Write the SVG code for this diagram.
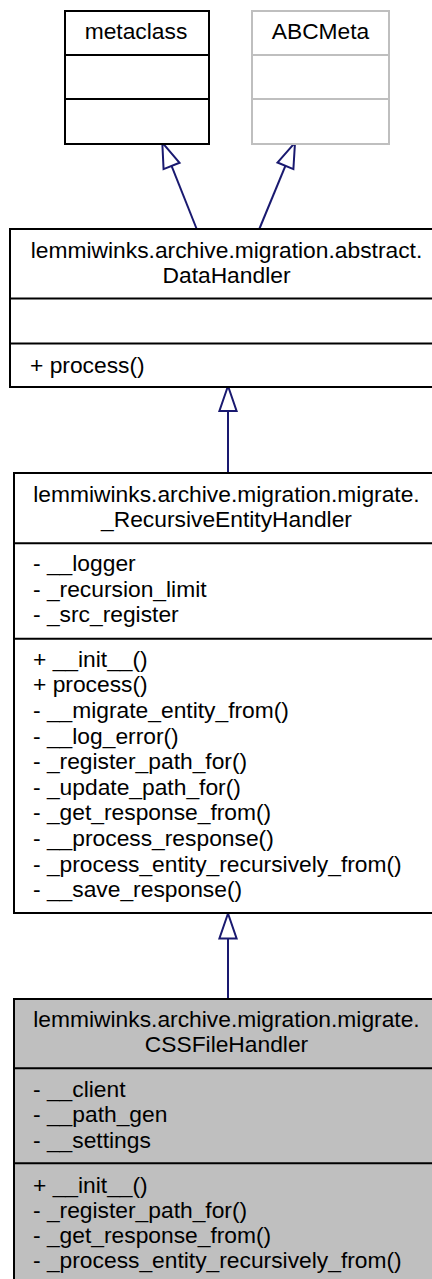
<svg xmlns="http://www.w3.org/2000/svg" width="432" height="1279" viewBox="0 0 432 1279">
<style>
.box{fill:#ffffff;stroke:#000000;stroke-width:2}
.gray{fill:#ffffff;stroke:#bfbfbf;stroke-width:2}
.sel{fill:#bfbfbf;stroke:#000000;stroke-width:2}
.div{stroke:#000000;stroke-width:2}
.divg{stroke:#bfbfbf;stroke-width:2}
text{font-family:"Liberation Sans",Arial,sans-serif;font-size:22.8px;fill:#000000}
.c{text-anchor:middle}
.edge{fill:none;stroke:#191970;stroke-width:2;marker-end:url(#inh)}
</style>
<defs>
<marker id="inh" markerUnits="userSpaceOnUse" viewBox="-27 -11 29 22" refX="0" refY="0" markerWidth="29" markerHeight="22" orient="auto">
<path d="M0,0 L-25,-8.6 L-25,8.6 Z" fill="#ffffff" stroke="#191970" stroke-width="2"/>
</marker>
</defs>
<rect width="432" height="1279" fill="#ffffff"/>
<g id="connectors">
<path class="edge" d="M196.7,229 L162.3,142.7"/>
<path class="edge" d="M259.3,229 L295,142.7"/>
<path class="edge" d="M228,473 L228,386"/>
<path class="edge" d="M228,999 L228,913.5"/>
</g>
<g id="metaclass">
<rect class="box" x="65" y="11" width="144" height="133"/>
<line class="div" x1="65" y1="55" x2="209" y2="55"/>
<line class="div" x1="65" y1="99" x2="209" y2="99"/>
<text class="c" x="136" y="39">metaclass</text>
</g>
<g id="ABCMeta">
<rect class="gray" x="252" y="11" width="137" height="133"/>
<line class="divg" x1="252" y1="55" x2="389" y2="55"/>
<line class="divg" x1="252" y1="99" x2="389" y2="99"/>
<text class="c" x="320.5" y="39">ABCMeta</text>
</g>
<g id="DataHandler">
<rect class="box" x="10" y="229" width="436" height="158"/>
<line class="div" x1="10" y1="298.5" x2="446" y2="298.5"/>
<line class="div" x1="10" y1="343.5" x2="446" y2="343.5"/>
<text class="c" x="226.5" y="258">lemmiwinks.archive.migration.abstract.</text>
<text class="c" x="226.5" y="283">DataHandler</text>
<text x="30" y="372.5">+ process()</text>
</g>
<g id="RecursiveEntityHandler">
<rect class="box" x="14" y="473" width="428" height="440"/>
<line class="div" x1="14" y1="543.3" x2="442" y2="543.3"/>
<line class="div" x1="14" y1="638.7" x2="442" y2="638.7"/>
<text class="c" x="226.5" y="501.7">lemmiwinks.archive.migration.migrate.</text>
<text class="c" x="226.5" y="526.7">_RecursiveEntityHandler</text>
<text x="33" y="571">- __logger</text>
<text x="33" y="596.7">- _recursion_limit</text>
<text x="33" y="622.3">- _src_register</text>
<text x="33" y="666.7">+ __init__()</text>
<text x="33" y="692.3">+ process()</text>
<text x="33" y="717.9">- __migrate_entity_from()</text>
<text x="33" y="743.5">- __log_error()</text>
<text x="33" y="769.1">- _register_path_for()</text>
<text x="33" y="794.7">- _update_path_for()</text>
<text x="33" y="820.3">- _get_response_from()</text>
<text x="33" y="845.9">- __process_response()</text>
<text x="33" y="871.5">- _process_entity_recursively_from()</text>
<text x="33" y="897.1">- __save_response()</text>
</g>
<g id="CSSFileHandler">
<rect class="sel" x="14" y="999" width="428" height="300"/>
<line class="div" x1="14" y1="1068.3" x2="442" y2="1068.3"/>
<line class="div" x1="14" y1="1163.3" x2="442" y2="1163.3"/>
<text class="c" x="226.5" y="1026.7">lemmiwinks.archive.migration.migrate.</text>
<text class="c" x="226.5" y="1051.7">CSSFileHandler</text>
<text x="33" y="1096.7">- __client</text>
<text x="33" y="1122.3">- __path_gen</text>
<text x="33" y="1147.7">- __settings</text>
<text x="33" y="1192.7">+ __init__()</text>
<text x="33" y="1218.3">- _register_path_for()</text>
<text x="33" y="1243.3">- _get_response_from()</text>
<text x="33" y="1268.3">- _process_entity_recursively_from()</text>
</g>
</svg>
